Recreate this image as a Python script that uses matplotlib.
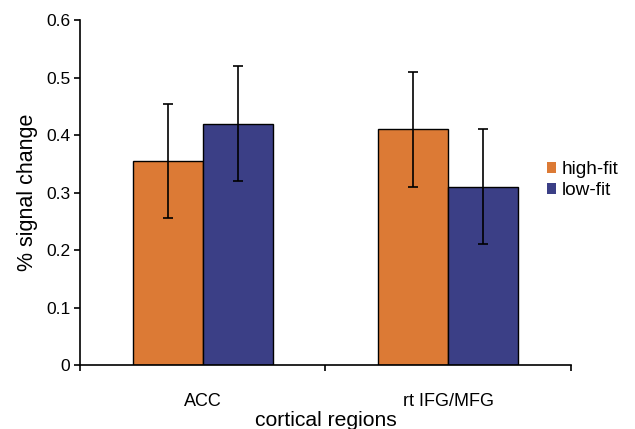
import numpy as np
import matplotlib.pyplot as plt

plt.rcParams['font.family'] = ['Liberation Sans', 'DejaVu Sans']

regions = ["ACC", "rt IFG/MFG"]
series = ["high-fit", "low-fit"]
high_fit = [0.355, 0.41]
low_fit = [0.42, 0.31]
high_err = [0.1, 0.1]
low_err = [0.1, 0.1]
colors = ["#DC7A35", "#3B3F86"]

fig = plt.figure(figsize=(6.35, 4.29), dpi=100)
ax = fig.add_axes([0.126, 0.149, 0.773, 0.804])

x = np.arange(1, len(regions) + 1)
w = 0.286
ekw = dict(elinewidth=1.2, capthick=1.2, ecolor="black")
ax.bar(x - w / 2, high_fit, w, yerr=high_err, color=colors[0], edgecolor="black",
       linewidth=1.0, capsize=3.5, error_kw=ekw)
ax.bar(x + w / 2, low_fit, w, yerr=low_err, color=colors[1], edgecolor="black",
       linewidth=1.0, capsize=3.5, error_kw=ekw)

ax.set_xlim(0.5, len(regions) + 0.5)
ax.set_ylim(0, 0.6)
ax.set_yticks(np.arange(0, 0.61, 0.1))
ax.set_yticklabels(["0", "0.1", "0.2", "0.3", "0.4", "0.5", "0.6"])
ax.set_xticks(np.arange(0.5, len(regions) + 1, 1.0))
ax.set_xticklabels([])
ax.set_xticks(x, minor=True)
ax.set_xticklabels(regions, minor=True)
ax.tick_params(axis="x", which="minor", length=0, pad=20, labelsize=13)
ax.tick_params(axis="x", which="major", length=4, width=1.2, direction="out")
ax.tick_params(axis="y", length=4, width=1.2, labelsize=12.5, pad=3)

for s in ["top", "right"]:
    ax.spines[s].set_visible(False)
ax.spines["left"].set_linewidth(1.2)
ax.spines["bottom"].set_linewidth(1.2)

ax.set_ylabel("% signal change", fontsize=15.5, labelpad=6)
ax.set_xlabel("cortical regions", fontsize=15.2, labelpad=1)

# legend squares without black outline, as in the original
handles = [plt.Rectangle((0, 0), 1, 1, color=c, linewidth=0) for c in colors]
ax.legend(handles, series, loc="center left", bbox_to_anchor=(0.935, 0.536),
          frameon=False, fontsize=13.7, handlelength=0.5, handleheight=0.5,
          handletextpad=0.3, labelspacing=0.2, borderaxespad=0)

fig.savefig("out.png", dpi=100)
